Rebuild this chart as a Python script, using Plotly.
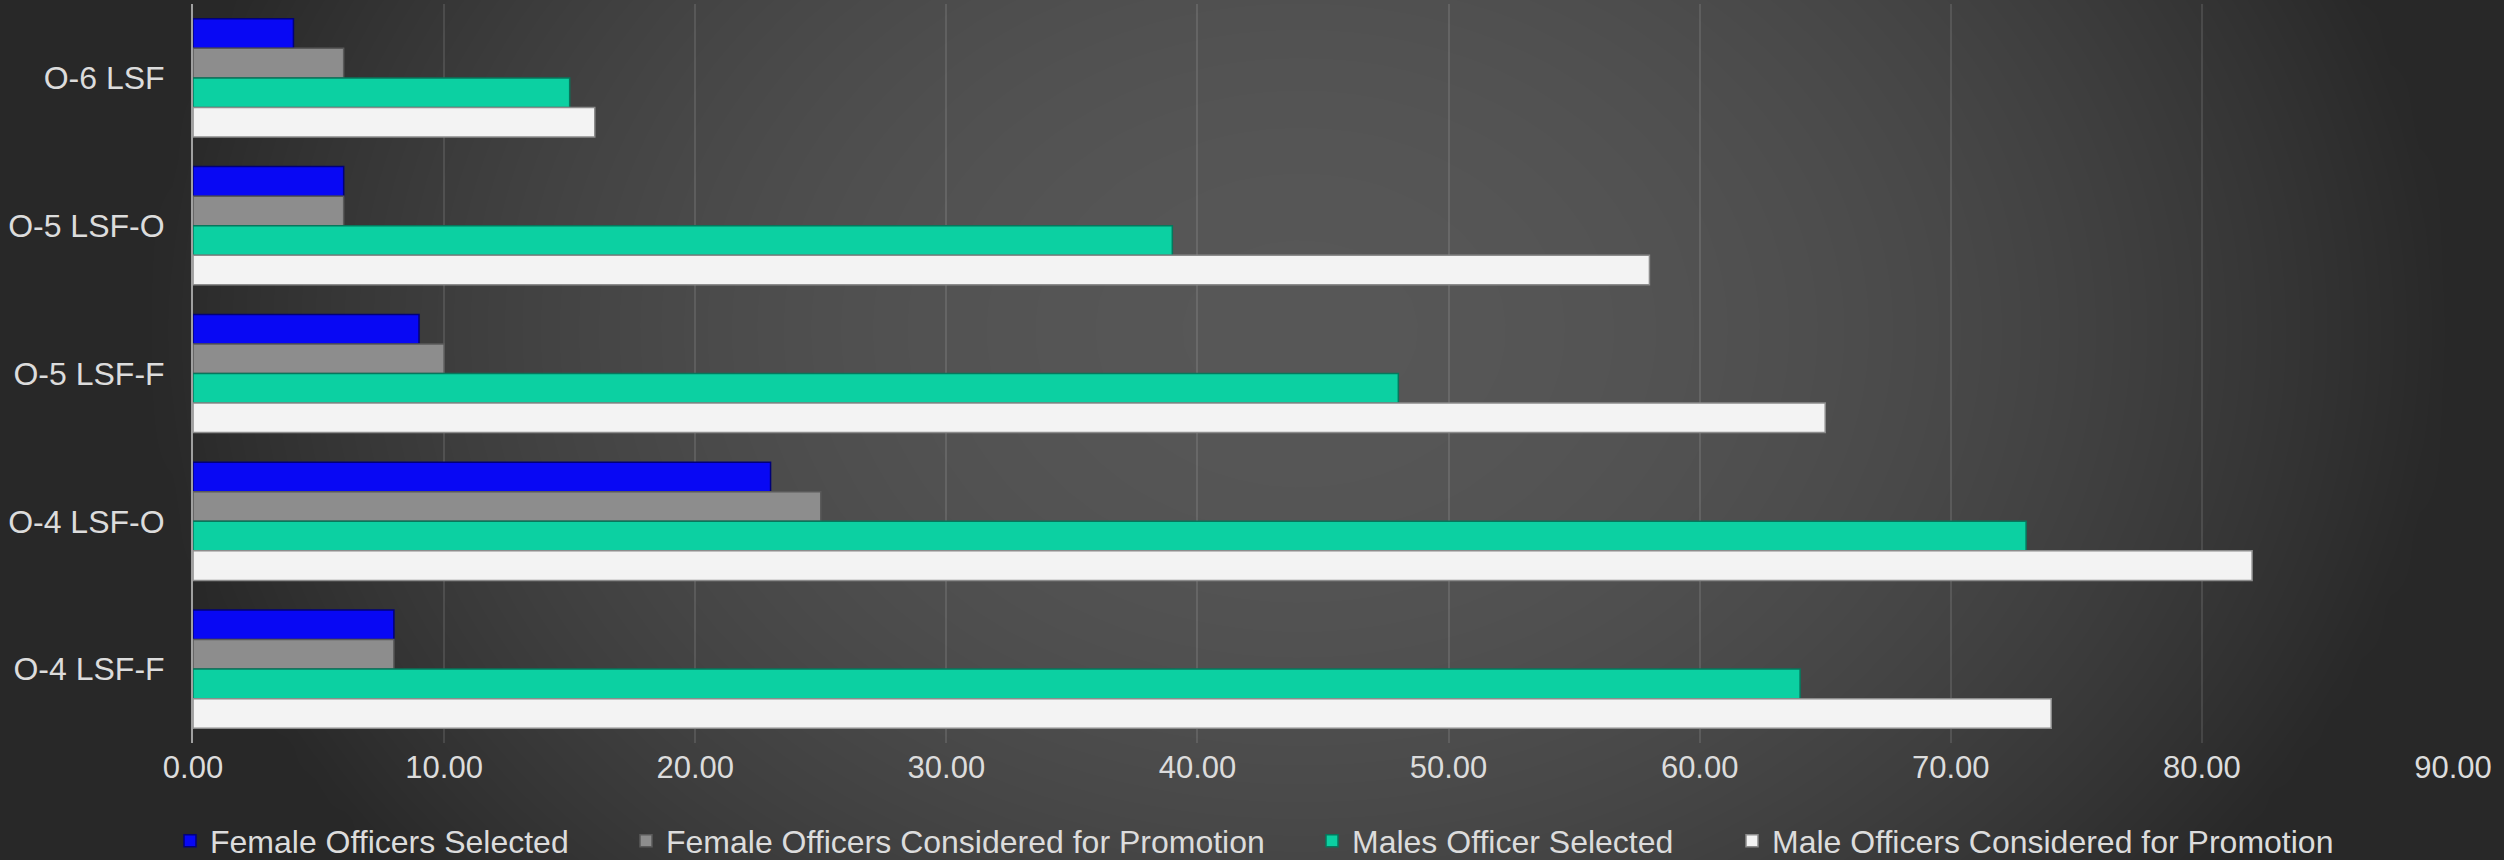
import numpy as np
import plotly.graph_objects as go

# Promotion board categories, listed top to bottom
categories = ["O-6 LSF", "O-5 LSF-O", "O-5 LSF-F", "O-4 LSF-O", "O-4 LSF-F"]

female_selected = [4, 6, 9, 23, 8]
female_considered = [6, 6, 10, 25, 8]
male_selected = [15, 39, 48, 73, 64]
male_considered = [16, 58, 65, 82, 74]

series_names = [
    "Female Officers Selected",
    "Female Officers Considered for Promotion",
    "Males Officer Selected",
    "Male Officers Considered for Promotion",
]
series_values = [female_selected, female_considered, male_selected, male_considered]
fill_colors = ["#0808f4", "#8d8d8d", "#0cd0a2", "#f3f3f3"]
edge_colors = ["#00007a", "#5a5a5a", "#06775c", "#8c8c8c"]

W, H = 2504, 860
FONT = "Liberation Sans, Arial, sans-serif"
TEXT = "#dcdcdc"

fig = go.Figure()

# Soft radial backdrop drawn on a hidden full-page axis pair
gx = np.linspace(-30, W + 30, 90)
gy = np.linspace(-30, H + 30, 40)
XX, YY = np.meshgrid(gx, gy)
d2 = ((XX - 1300) / 1150) ** 2 + ((YY - 330) / 880) ** 2
shade = np.clip(1 - d2, 0, 1)
fig.add_trace(go.Heatmap(
    x=gx, y=gy, z=shade, zmin=0, zmax=1, zsmooth="best",
    colorscale=[[0, "#282828"], [1, "#575757"]],
    showscale=False, hoverinfo="skip", xaxis="x", yaxis="y",
))

legend_ids = ["legend", "legend2", "legend3", "legend4"]
for name, vals, fc, ec, lg in zip(series_names, series_values, fill_colors, edge_colors, legend_ids):
    fig.add_trace(go.Bar(
        name=name, x=vals, y=categories, orientation="h",
        marker=dict(color=fc, line=dict(color=ec, width=1.5)),
        xaxis="x2", yaxis="y2", legend=lg, showlegend=True,
    ))

left, right, top, bottom = 193, 2453, 4, 743

legend_common = dict(
    orientation="h", xref="container", yref="container",
    xanchor="left", yanchor="middle", y=19 / H,
    bgcolor="rgba(0,0,0,0)", borderwidth=0,
    font=dict(family=FONT, size=32, color=TEXT),
)
legend_left_px = [170, 626, 1312, 1732]

fig.update_layout(
    width=W, height=H,
    margin=dict(l=0, r=0, t=0, b=0, pad=0, autoexpand=False),
    paper_bgcolor="#2a2a2a",
    plot_bgcolor="rgba(0,0,0,0)",
    showlegend=True,
    barmode="group", bargap=0.2, bargroupgap=0,
    font=dict(family=FONT, size=32, color=TEXT),
    xaxis=dict(range=[0, W], visible=False, fixedrange=True),
    yaxis=dict(range=[H, 0], visible=False, fixedrange=True),
    xaxis2=dict(
        domain=[left / W, right / W], anchor="y2",
        range=[0, 90], dtick=10, tickformat=".2f",
        showgrid=True, gridcolor="rgba(255,255,255,0.11)", gridwidth=1.5,
        zeroline=False, showline=False, ticks="",
        ticklabelstandoff=3, automargin=False,
        tickfont=dict(family=FONT, size=31, color=TEXT),
    ),
    yaxis2=dict(
        domain=[1 - bottom / H, 1 - top / H], anchor="x2",
        type="category", categoryorder="array", categoryarray=categories,
        autorange="reversed",
        showgrid=False, zeroline=False,
        showline=True, linecolor="#a0a0a0", linewidth=2,
        ticks="", ticklabelstandoff=20, automargin=False,
        tickfont=dict(family=FONT, size=32, color=TEXT),
    ),
    legend=dict(x=legend_left_px[0] / W, **legend_common),
    legend2=dict(x=legend_left_px[1] / W, **legend_common),
    legend3=dict(x=legend_left_px[2] / W, **legend_common),
    legend4=dict(x=legend_left_px[3] / W, **legend_common),
)

fig.write_html("out.html")
